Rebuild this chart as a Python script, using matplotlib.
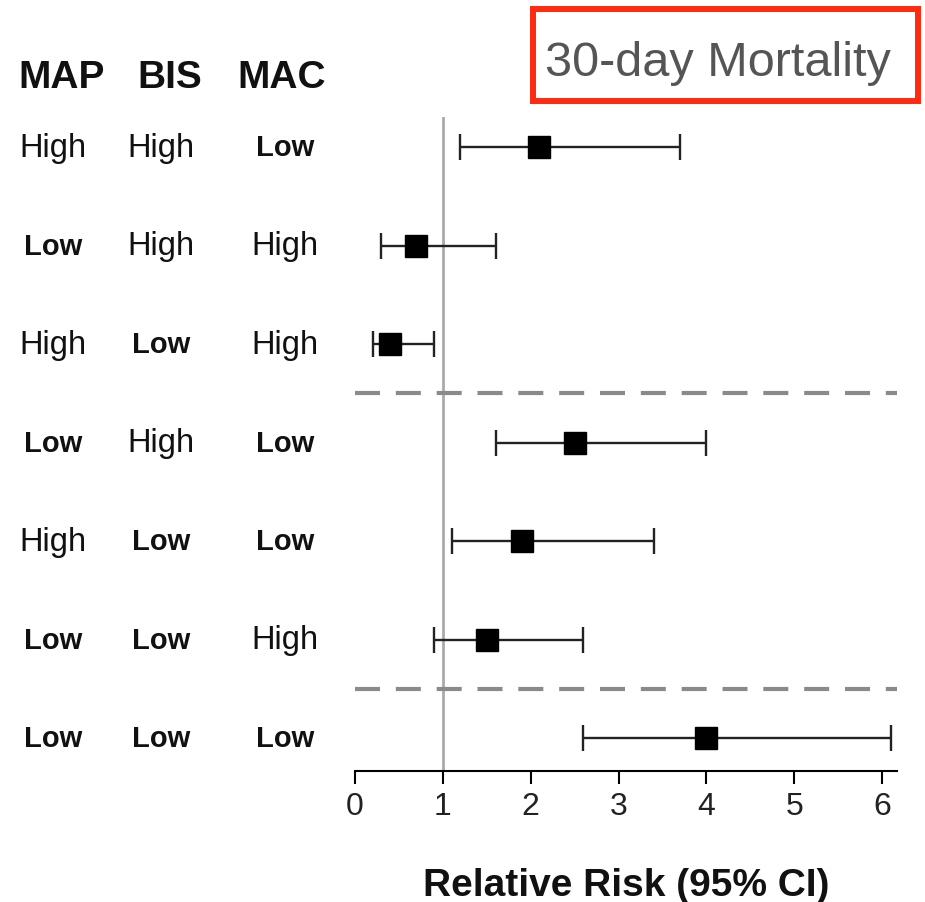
import matplotlib
matplotlib.use("Agg")
import matplotlib.pyplot as plt
import matplotlib.transforms as mtransforms
from matplotlib.patches import Rectangle

plt.rcParams['font.family'] = ['Liberation Sans', 'DejaVu Sans']

# ---- data ----
headers = ["MAP", "BIS", "MAC"]
map_levels = ["High", "Low", "High", "Low", "High", "Low", "Low"]
bis_levels = ["High", "High", "Low", "High", "Low", "Low", "Low"]
mac_levels = ["Low", "High", "High", "Low", "Low", "High", "Low"]
rr = [2.1, 0.7, 0.4, 2.5, 1.9, 1.5, 4.0]
ci_lo = [1.2, 0.3, 0.2, 1.6, 1.1, 0.9, 2.6]
ci_hi = [3.7, 1.6, 0.9, 4.0, 3.4, 2.6, 6.1]
xticks = [0, 1, 2, 3, 4, 5, 6]
separators = [2.5, 5.5]
title = "30-day Mortality"
xlabel = "Relative Risk (95% CI)"

W, H = 925, 903
fig = plt.figure(figsize=(W / 100, H / 100), dpi=100)
ax = fig.add_axes([355 / W, 1 - 772 / H, 542 / W, (772 - 118) / H])

ys = list(range(len(rr)))
xerr = [[r - l for r, l in zip(rr, ci_lo)], [h - r for r, h in zip(rr, ci_hi)]]
ax.errorbar(rr, ys, xerr=xerr, fmt='s', color='black', ecolor='#222222',
            elinewidth=1.7, capsize=9.5, capthick=1.7, markersize=16, zorder=3)

ax.axvline(1, color='#aaaaaa', lw=2.0, zorder=1)
for s in separators:
    ax.axhline(s, color='#8a8a8a', lw=3.0, dashes=(6, 3.8), zorder=1)

ax.set_xlim(0, 6.17)
ax.set_ylim(6.335, -0.305)
ax.set_xticks(xticks)
ax.set_xticklabels([str(t) for t in xticks], fontsize=23, color='#222222')
ax.tick_params(axis='x', length=9.5, width=1.5, pad=5)
ax.set_yticks([])
for sp in ['top', 'right', 'left']:
    ax.spines[sp].set_visible(False)
ax.spines['bottom'].set_linewidth(1.5)
ax.set_xlabel(xlabel, fontsize=28, fontweight='bold', color='#111111', labelpad=33)

# row labels
trans = mtransforms.blended_transform_factory(fig.transFigure, ax.transData)
col_x = [53 / W, 161 / W, 285 / W]
for i in ys:
    for cx, lev in zip(col_x, [map_levels[i], bis_levels[i], mac_levels[i]]):
        if lev == "Low":
            ax.text(cx, i, lev, transform=trans, ha='center', va='center',
                    fontsize=21, fontweight='bold', color='#111111')
        else:
            ax.text(cx, i, lev, transform=trans, ha='center', va='center',
                    fontsize=23.5, color='#111111')

head_x = [62 / W, 170 / W, 282 / W]
for hx, h in zip(head_x, headers):
    fig.text(hx, 1 - 78 / H, h, ha='center', va='center', fontsize=28,
             fontweight='bold', color='#111111')

# title box
fig.patches.append(Rectangle((533 / W, 1 - 102 / H), (918 - 533) / W, (102 - 10) / H,
                             transform=fig.transFigure, fill=False,
                             edgecolor='#ff2a10', lw=4.3))
fig.text(545 / W, 1 - 64 / H, title, ha='left', va='center', fontsize=35,
         color='#555555')

fig.savefig("out.png", dpi=100)
